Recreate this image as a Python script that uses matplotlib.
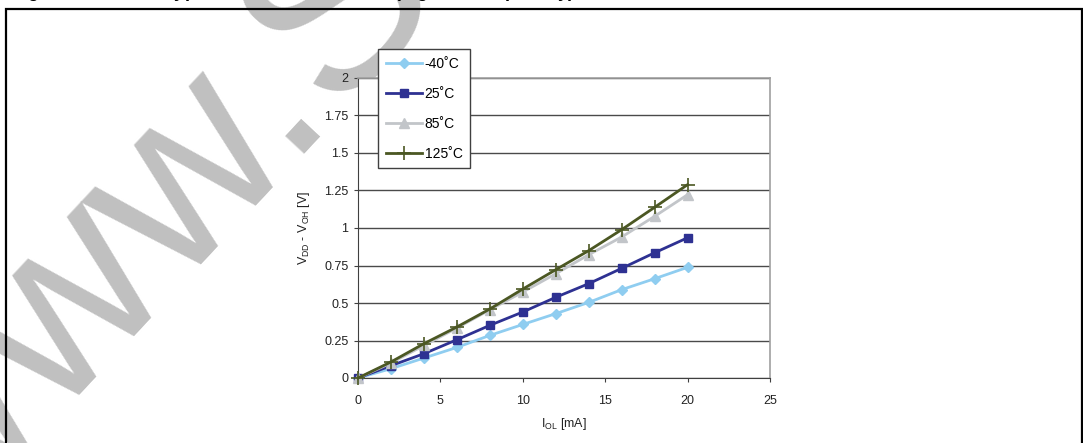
import matplotlib
matplotlib.use("Agg")
import matplotlib.pyplot as plt
from matplotlib.patches import Rectangle

plt.rcParams['font.family'] = ['Liberation Sans', 'DejaVu Sans']
plt.rcParams['mathtext.fontset'] = 'custom'
plt.rcParams['mathtext.rm'] = 'Liberation Sans'
plt.rcParams['mathtext.bf'] = 'Liberation Sans:bold'

# data
i_ol = [0, 2, 4, 6, 8, 10, 12, 14, 16, 18, 20]
v_m40 = [0, 0.062, 0.133, 0.204, 0.284, 0.357, 0.429, 0.504, 0.589, 0.662, 0.738]
v_25 = [0, 0.082, 0.162, 0.255, 0.351, 0.440, 0.538, 0.629, 0.731, 0.835, 0.935]
v_85 = [0, 0.100, 0.217, 0.333, 0.455, 0.573, 0.695, 0.822, 0.940, 1.078, 1.222]
v_125 = [0, 0.107, 0.229, 0.340, 0.460, 0.593, 0.722, 0.849, 0.989, 1.138, 1.289]

labels = ['-40\u02daC', '25\u02daC', '85\u02daC', '125\u02daC']
x_ticks = [0, 5, 10, 15, 20, 25]
y_ticks = [0, 0.25, 0.5, 0.75, 1, 1.25, 1.5, 1.75, 2]
y_ticklabels = ['0', '0.25', '0.5', '0.75', '1', '1.25', '1.5', '1.75', '2']

W, H = 1083, 443
fig = plt.figure(figsize=(W / 100, H / 100), dpi=100)

# watermark (behind the plot)
fig.text(-66 / W, 1 - 552 / H, 'www.S', rotation=47, rotation_mode='anchor',
         ha='left', va='baseline', fontsize=178, color='#c0c0c0', zorder=-1)

# frame around the figure
fig.add_artist(Rectangle((6 / W, -0.05), (1082 - 6) / W, 1.05 - 9 / H,
                         transform=fig.transFigure, fill=False,
                         edgecolor='black', linewidth=1.6))

# title, cut off at the top edge
fig.text(12 / W, 1 + 3 / H, 'Figure 40.', fontsize=13, fontweight='bold',
         ha='left', va='baseline')
fig.text(163 / W, 1 + 3 / H,
         r'Typ. V$_{\mathbf{DD}}$ - V$_{\mathbf{OH}}$ @ V$_{\mathbf{DD}}$ = 5 V (high sink capability)',
         fontsize=13, fontweight='bold', ha='left', va='baseline')

ax = fig.add_axes([358 / W, 1 - 378 / H, 412 / W, 300 / H])

ax.plot(i_ol, v_m40, color='#8fcdf0', lw=2, marker='D', ms=5,
        label=labels[0], clip_on=False, zorder=3)
ax.plot(i_ol, v_25, color='#2e3192', lw=2, marker='s', ms=6,
        label=labels[1], clip_on=False, zorder=4)
ax.plot(i_ol, v_85, color='#c2c5c9', lw=2, marker='^', ms=7,
        label=labels[2], clip_on=False, zorder=5)
ax.plot(i_ol, v_125, color='#4b5723', lw=2, marker='+', ms=10, mew=1.2,
        label=labels[3], clip_on=False, zorder=6)

ax.set_xlim(0, 25)
ax.set_ylim(0, 2)
ax.set_xticks(x_ticks)
ax.set_yticks(y_ticks)
ax.set_yticklabels(y_ticklabels)
ax.yaxis.grid(True, color='#4a4a4a', lw=1)
ax.set_axisbelow(True)

for s in ['left', 'bottom']:
    ax.spines[s].set_color('#404040')
for s in ['top', 'right']:
    ax.spines[s].set_color('#a0a0a0')
    ax.spines[s].set_linewidth(1.2)

ax.tick_params(axis='x', direction='out', length=3, color='#404040',
               labelsize=9, pad=9, labelcolor='#222222')
ax.tick_params(axis='y', direction='out', length=3, color='#404040',
               labelsize=9, pad=4, labelcolor='#222222')

ax.set_xlabel(r'I$_{\mathrm{OL}}$ [mA]', fontsize=9, labelpad=7, color='#222222')
ax.set_ylabel(r'V$_{\mathrm{DD}}$ - V$_{\mathrm{OH}}$ [V]', fontsize=9,
              labelpad=9, color='#222222')

leg = fig.legend(loc='upper left', bbox_to_anchor=(378 / W, 1 - 49 / H),
                 fontsize=10, frameon=True, fancybox=False, framealpha=1,
                 edgecolor='#404040', handlelength=2.6, handletextpad=0.2,
                 labelspacing=1.15, borderpad=0.55, borderaxespad=0)
leg.get_frame().set_linewidth(1)

fig.savefig('out.png', dpi=100)
